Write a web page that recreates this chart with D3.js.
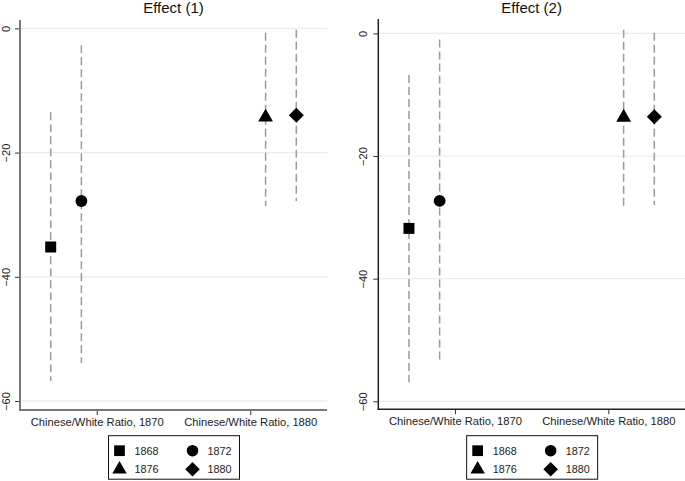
<!DOCTYPE html>
<html><head><meta charset="utf-8">
<script src="https://cdn.jsdelivr.net/npm/d3@7"></script>
<style>body{margin:0;background:#fff}svg{display:block;font-family:"Liberation Sans",Arial,sans-serif}</style>
</head><body>
<svg id="c" width="685" height="481"></svg>
<script>
const categories = ["Chinese/White Ratio, 1870", "Chinese/White Ratio, 1880"];
const series = ["1868", "1872", "1876", "1880"];
const seriesCategory = [0, 0, 1, 1];
const titles = ["Effect (1)", "Effect (2)"];
const yTicks = [0, -20, -40, -60];
// panel 1
const est1 = [-35.2, -27.8, -14.3, -14.0];
const lo1 = [-56.8, -53.9, -28.6, -27.8];
const hi1 = [-13.5, -2.7, -0.7, -0.2];
// panel 2
const est2 = [-31.8, -27.3, -13.7, -13.6];
const lo2 = [-56.9, -53.8, -28.5, -28.0];
const hi2 = [-6.8, -1.0, 0.6, 0.1];

const svg = d3.select("#c");
const panels = [
  {left: 20, right: 327, top: 20, bottom: 410, yDom: [-61.45, 1.35], est: est1, lo: lo1, hi: hi1, axisCol: "#777", axisW: 2},
  {left: 378.3, right: 685, top: 19, bottom: 409.3, yDom: [-61.3, 2.35], est: est2, lo: lo2, hi: hi2, axisCol: "#222", axisW: 1.5}
];
const offsets = [-0.3, -0.1, 0.1, 0.3];
const symTypes = [d3.symbolSquare, d3.symbolCircle, d3.symbolTriangle, d3.symbolSquare];
const symSizes = [121, 110, 95, 112];
const symRot = [0, 0, 0, 45];

panels.forEach((p, pi) => {
  const g = svg.append("g");
  const x = d3.scaleLinear().domain([0.5, 2.5]).range([p.left, p.right]);
  const y = d3.scaleLinear().domain(p.yDom).range([p.bottom, p.top]);
  // gridlines
  g.selectAll(".grid").data(yTicks).join("line")
    .attr("x1", p.left).attr("x2", p.right)
    .attr("y1", d => y(d)).attr("y2", d => y(d))
    .attr("stroke", "#e6efef").attr("stroke-width", 1.3);
  // title
  g.append("text").attr("x", (p.left + p.right) / 2).attr("y", 12.5)
    .attr("text-anchor", "middle").attr("font-size", 15).attr("fill", "#111").text(titles[pi]);
  // y axis
  const ya = g.append("g").attr("transform", `translate(${p.left},0)`)
    .call(d3.axisLeft(y).tickValues(yTicks).tickSize(5).tickPadding(4).tickFormat(d3.format("d")));
  ya.select(".domain").remove();
  ya.append("line").attr("x1", 0).attr("x2", 0).attr("y1", p.top).attr("y2", p.bottom)
    .attr("stroke", p.axisCol).attr("stroke-width", p.axisW);
  ya.selectAll(".tick line").attr("stroke", "#333");
  ya.selectAll(".tick text").attr("font-size", 11).attr("fill", "#222")
    .attr("font-family", "Liberation Sans, Arial, sans-serif")
    .attr("transform", "rotate(-90)").attr("x", 0).attr("y", pi === 0 ? -10 : -11).attr("dy", 0)
    .attr("text-anchor", "middle");
  // x axis
  const xa = g.append("g").attr("transform", `translate(0,${p.bottom})`)
    .call(d3.axisBottom(x).tickValues([1, 2]).tickSize(5).tickPadding(3).tickFormat(d => categories[d - 1]));
  xa.select(".domain").remove();
  xa.append("line").attr("x1", p.left - p.axisW / 2).attr("x2", p.right).attr("y1", 0).attr("y2", 0)
    .attr("stroke", p.axisCol).attr("stroke-width", p.axisW);
  xa.selectAll(".tick line").attr("stroke", "#333");
  xa.selectAll(".tick text").attr("font-size", 11.2).attr("fill", "#222")
    .attr("font-family", "Liberation Sans, Arial, sans-serif");
  // CI lines
  const idx = series.map((s, i) => i);
  const xp = i => x(seriesCategory[i] + 1 + offsets[i]);
  g.selectAll(".ci").data(idx).join("line")
    .attr("x1", xp).attr("x2", xp)
    .attr("y1", i => y(p.hi[i])).attr("y2", i => y(p.lo[i]))
    .attr("stroke", "#9a9a9a").attr("stroke-width", 1.5).attr("stroke-dasharray", "8,4");
  // markers
  g.selectAll(".pt").data(idx).join("path")
    .attr("d", i => d3.symbol(symTypes[i], symSizes[i])())
    .attr("transform", i => `translate(${xp(i)},${y(p.est[i])}) rotate(${symRot[i]})`)
    .attr("fill", "#000");
  // legend
  const lw = 131, lh = 43.5;
  const lx = (p.left + p.right) / 2 - lw / 2 + 0.5, ly = 435.7;
  const lg = g.append("g").attr("transform", `translate(${lx},${ly})`);
  lg.append("rect").attr("width", lw).attr("height", lh).attr("fill", "#fff").attr("stroke", "#111").attr("stroke-width", 1);
  series.forEach((s, i) => {
    const col = i % 2, row = Math.floor(i / 2);
    const cx = 11 + col * 73, cy = 15 + row * 18.6;
    lg.append("path").attr("d", d3.symbol(symTypes[i], symSizes[i] * 0.95)())
      .attr("transform", `translate(${cx},${cy}) rotate(${symRot[i]})`).attr("fill", "#000");
    lg.append("text").attr("x", cx + 15).attr("y", cy + 4).attr("font-size", 10.8).attr("fill", "#222").text(s);
  });
});
</script>
</body></html>
